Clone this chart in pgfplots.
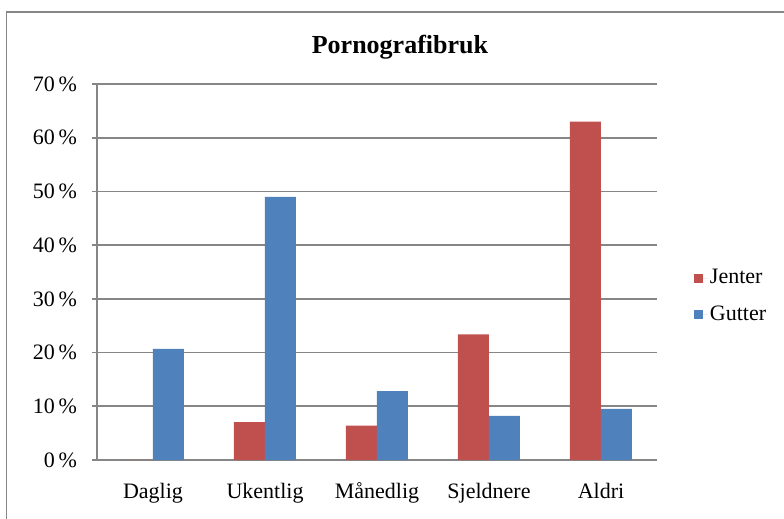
\documentclass[border=0pt]{standalone}
\usepackage{fontspec}
\setmainfont{Liberation Serif}
\usepackage{pgfplots}
\pgfplotsset{compat=1.18}

\definecolor{jenter}{HTML}{C0504D}
\definecolor{gutter}{HTML}{4F81BD}
\definecolor{gridgray}{HTML}{868686}

\begin{document}
\begin{tikzpicture}
    % picture area: 784 x 519 px at 0.5bp per px
    \path[use as bounding box] (0,0) rectangle (392bp,259.5bp);
    \draw[gridgray, line width=0.8bp] (3.25bp,0) -- (3.25bp,253.5bp) -- (392bp,253.5bp);
    \begin{axis}[
            scale only axis,
            width=280bp,
            height=188bp,
            at={(48.5bp,29.5bp)},
            anchor=south west,
            ybar=0pt,
            bar width=15.5bp,
            xmin=-0.5, xmax=4.5,
            ymin=0, ymax=70,
            xtick={0,...,4},
            xticklabels={Daglig,Ukentlig,Månedlig,Sjeldnere,Aldri},
            minor xtick={-0.5,0.5,...,4.5},
            ytick={0,10,...,70},
            yticklabel={\pgfmathprintnumber{\tick}\,\%},
            /pgf/number format/assume math mode=true,
            axis x line*=bottom,
            axis y line*=left,
            axis line style={gridgray, line width=0.8bp, -},
            ymajorgrids=true,
            grid style={gridgray, line width=0.8bp},
            tick align=outside,
            major tick length=2.5bp,
            minor tick length=2.5bp,
            xtick style={draw=none},
            ytick style={gridgray, line width=0.8bp},
            minor tick style={gridgray, line width=0.8bp},
            tick label style={font=\fontsize{11bp}{13bp}\selectfont},
            yticklabel style={xshift=-4bp},
            xticklabel style={yshift=-5.5bp},
            title={Pornografibruk},
            title style={font=\fontsize{13bp}{15bp}\selectfont\bfseries,
                at={(rel axis cs:0.541,1.1)}, anchor=center, yshift=-6.5bp},
            legend style={draw=none, at={(rel axis cs:1.055,0.435)}, anchor=west,
                font=\fontsize{11bp}{13bp}\selectfont, row sep=7.5bp,
                nodes={inner sep=1bp}},
            legend cell align=left,
            legend image code/.code={\path[#1, draw=none] (0bp,-2.2bp) rectangle (4.4bp,2.2bp);
                \path (0bp,0bp) -- (6.9bp,0bp);},
            clip=false
        ]
        \addplot[fill=jenter, draw=none] coordinates {
                (0,0) (1,7.05) (2,6.4) (3,23.4) (4,63.0)
            };
        \addplot[fill=gutter, draw=none] coordinates {
                (0,20.7) (1,49.0) (2,12.84) (3,8.2) (4,9.5)
            };
        \legend{Jenter,Gutter}
    \end{axis}
\end{tikzpicture}
\end{document}
